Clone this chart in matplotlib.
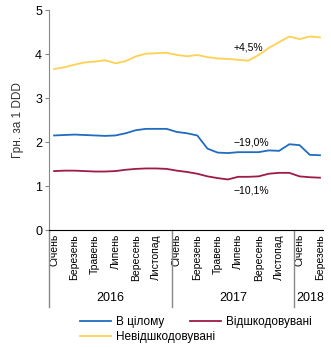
import matplotlib
matplotlib.use("Agg")
import matplotlib.pyplot as plt
import matplotlib.transforms as mtransforms

plt.rcParams['font.family'] = ['Liberation Sans', 'DejaVu Sans']

#%% Data
months = ['Січень', 'Лютий', 'Березень', 'Квітень', 'Травень', 'Червень',
          'Липень', 'Серпень', 'Вересень', 'Жовтень', 'Листопад', 'Грудень']
years = ['2016', '2017', '2018']
months_per_year = [12, 12, 3]

total = [2.15, 2.16, 2.17, 2.16, 2.15, 2.14, 2.15, 2.20, 2.27, 2.30, 2.30, 2.30,
         2.23, 2.20, 2.15, 1.85, 1.76, 1.75, 1.77, 1.77, 1.77, 1.81, 1.80, 1.95,
         1.93, 1.71, 1.70]
reimbursed = [1.34, 1.35, 1.35, 1.34, 1.33, 1.33, 1.34, 1.37, 1.39, 1.40, 1.40, 1.39,
              1.35, 1.32, 1.28, 1.22, 1.18, 1.15, 1.21, 1.21, 1.22, 1.28, 1.30, 1.30,
              1.22, 1.20, 1.19]
not_reimbursed = [3.66, 3.70, 3.76, 3.81, 3.83, 3.86, 3.79, 3.84, 3.95, 4.01, 4.02, 4.03,
                  3.98, 3.95, 3.98, 3.93, 3.90, 3.89, 3.87, 3.85, 3.98, 4.14, 4.27, 4.40,
                  4.34, 4.40, 4.38]

series_names = ['В цілому', 'Відшкодовувані', 'Невідшкодовувані']
changes = ['+4,5%', '\u221219,0%', '\u221210,1%']

#%% Plot
fig = plt.figure(figsize=(3.31, 3.48), dpi=100)
ax = fig.add_axes([0.148, 0.339, 0.828, 0.632])

x = list(range(len(total)))
l1, = ax.plot(x, total, color='#1f6cc0', lw=1.3)
l2, = ax.plot(x, reimbursed, color='#9e1a48', lw=1.3)
l3, = ax.plot(x, not_reimbursed, color='#fdd152', lw=1.3)

ax.set_ylim(0, 5)
ax.set_xlim(-0.5, 26.3)
ax.set_yticks(range(6))
ax.tick_params(axis='y', labelsize=9, length=3, color='#888888', pad=2)
ax.set_ylabel('Грн. за 1 DDD', fontsize=8.5, color='#333333', labelpad=8)

for s in ['top', 'right']:
    ax.spines[s].set_visible(False)
ax.spines['left'].set_color('#888888')
ax.spines['bottom'].set_color('#000000')

# month tick labels, every other month
ticks, labels = [], []
start = 0
for n in months_per_year:
    for m in range(0, n, 2):
        ticks.append(start + m)
        labels.append(months[m])
    start += n
ax.set_xticks(ticks)
ax.set_xticklabels(labels, rotation=90, fontsize=7.5,
                   fontfamily=['Liberation Sans Narrow', 'Liberation Sans'])
ax.tick_params(axis='x', length=0, pad=3)

# year groups
trans = mtransforms.blended_transform_factory(ax.transData, ax.transAxes)
start = 0
for yr, n in zip(years, months_per_year):
    ax.plot([start - 0.5, start - 0.5], [0, -0.35], transform=trans, color='#888888',
            lw=1, clip_on=False)
    mid = start - 0.5 + n / 2
    ax.text(mid, -0.31, yr, transform=trans, ha='center', va='center', fontsize=9)
    start += n

# change annotations
ax.text(19.0, 4.15, changes[0], ha='center', va='center', fontsize=7.5)
ax.text(19.3, 1.99, changes[1], ha='center', va='center', fontsize=7.5)
ax.text(19.3, 0.90, changes[2], ha='center', va='center', fontsize=7.5)

# legend: two rows laid out like the original
leg_kw = dict(frameon=False, fontsize=8.5, handlelength=2.6, handletextpad=0.45,
              borderpad=0, borderaxespad=0, loc='upper left')
leg1 = fig.legend([l1, l2], [series_names[0], series_names[1]], ncol=2,
                  columnspacing=2.2, bbox_to_anchor=(80 / 331, 1 - 316 / 348), **leg_kw)
fig.legend([l3], [series_names[2]], bbox_to_anchor=(80 / 331, 1 - 331 / 348), **leg_kw)

fig.savefig('out.png', dpi=100)
